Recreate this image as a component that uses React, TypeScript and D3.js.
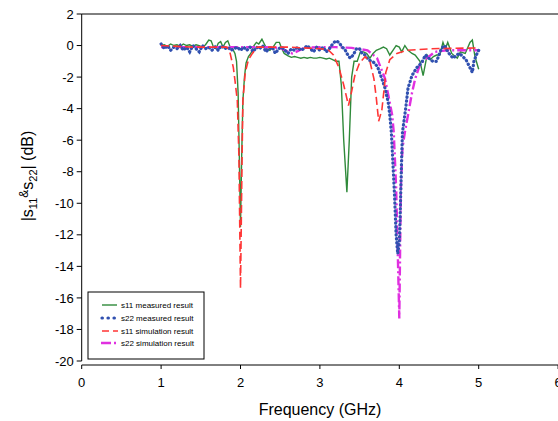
import React from "react";
import * as d3 from "d3";

// [frequency GHz, dB]
const s11Measured: [number, number][] = [
  [1.0, 0.0], [1.04, 0.05], [1.08, -0.05], [1.12, 0.1], [1.16, 0.0], [1.2, 0.05], [1.24, -0.05],
  [1.28, 0.1], [1.32, 0.0], [1.36, 0.05], [1.4, -0.05], [1.44, 0.05], [1.48, 0.0], [1.52, -0.1],
  [1.56, 0.05], [1.6, 0.35], [1.63, 0.3], [1.66, -0.1], [1.69, -0.2], [1.72, 0.15], [1.75, 0.25],
  [1.78, -0.1], [1.81, 0.2], [1.84, 0.3], [1.87, -0.1], [1.9, -0.2], [1.93, -0.5], [1.95, -1.0],
  [1.97, -3.0], [1.985, -7.0], [2.0, -11.5], [2.015, -7.0], [2.03, -3.5], [2.05, -2.0], [2.07, -1.1],
  [2.1, -0.7], [2.13, -0.5], [2.17, 0.0], [2.2, 0.2], [2.23, 0.1], [2.27, 0.4], [2.3, 0.1],
  [2.33, -0.2], [2.37, -0.3], [2.41, -0.1], [2.45, 0.2], [2.49, 0.2], [2.52, -0.2], [2.55, -0.5],
  [2.6, -0.65], [2.64, -0.75], [2.68, -0.7], [2.72, -0.75], [2.76, -0.8], [2.8, -0.75], [2.84, -0.8],
  [2.88, -0.75], [2.92, -0.8], [2.96, -0.8], [3.0, -0.75], [3.04, -0.8], [3.08, -0.85], [3.12, -0.8],
  [3.16, -0.9], [3.2, -1.0], [3.24, -1.0], [3.27, -2.5], [3.3, -6.0], [3.34, -9.3], [3.37, -6.0],
  [3.4, -2.0], [3.43, -1.0], [3.47, -1.0], [3.51, -0.4], [3.55, -0.4], [3.59, -0.5], [3.63, -0.8],
  [3.67, -0.5], [3.71, -0.3], [3.76, -0.2], [3.8, -0.1], [3.84, -0.2], [3.88, -0.6], [3.92, -0.3],
  [3.96, 0.0], [4.0, -0.1], [4.03, -0.4], [4.07, 0.0], [4.11, -0.3], [4.16, -0.5], [4.2, -0.6],
  [4.26, -1.0], [4.3, -1.9], [4.35, -0.6], [4.39, -0.9], [4.43, -0.7], [4.47, -0.6], [4.51, -0.6],
  [4.55, 0.2], [4.58, -0.2], [4.61, 0.2], [4.66, -0.5], [4.73, -0.8], [4.77, -0.4], [4.83, -0.5],
  [4.89, 0.2], [4.92, 0.35], [4.95, -0.6], [4.97, -1.0], [5.0, -1.5],
];

const s22Measured: [number, number][] = [
  [1.0, 0.1], [1.04, -0.2], [1.08, 0.0], [1.12, -0.3], [1.16, -0.1], [1.2, -0.2], [1.24, 0.0],
  [1.28, -0.3], [1.32, -0.1], [1.36, -0.4], [1.4, 0.0], [1.44, -0.2], [1.48, -0.4], [1.52, 0.0],
  [1.56, -0.2], [1.6, -0.1], [1.64, -0.3], [1.68, -0.1], [1.72, -0.3], [1.76, 0.0], [1.8, -0.2],
  [1.84, -0.1], [1.88, -0.3], [1.92, -0.2], [1.96, -0.1], [2.0, -0.3], [2.04, -0.1], [2.08, -0.3],
  [2.12, -0.1], [2.16, -0.4], [2.2, -0.1], [2.24, -0.2], [2.28, 0.0], [2.32, -0.4], [2.36, -0.2],
  [2.4, -0.1], [2.44, -0.5], [2.48, -0.2], [2.52, -0.1], [2.56, -0.3], [2.6, -0.5], [2.64, -0.2],
  [2.68, -0.3], [2.72, -0.1], [2.76, -0.3], [2.8, -0.2], [2.84, 0.0], [2.88, -0.2], [2.92, -0.4],
  [2.96, -0.1], [3.0, -0.3], [3.04, -0.1], [3.08, -0.4], [3.12, -0.2], [3.16, 0.1], [3.2, 0.3],
  [3.24, 0.2], [3.28, -0.1], [3.31, -0.2], [3.34, -0.5], [3.38, -0.8], [3.42, -0.6], [3.46, -0.2],
  [3.5, -0.2], [3.53, -0.5], [3.57, -0.6], [3.61, -0.9], [3.65, -1.0], [3.69, -1.1], [3.73, -1.4],
  [3.78, -2.1], [3.82, -2.7], [3.86, -3.6], [3.88, -4.4], [3.9, -5.5], [3.92, -7.5], [3.94, -9.5],
  [3.96, -12.0], [3.98, -13.2], [4.0, -12.5], [4.01, -11.0], [4.02, -9.0], [4.03, -7.0], [4.04, -5.5],
  [4.08, -4.0], [4.11, -2.7], [4.16, -1.9], [4.22, -1.4], [4.28, -1.1], [4.33, -0.6], [4.37, -0.8],
  [4.42, -1.0], [4.47, -1.0], [4.5, -0.6], [4.53, -0.2], [4.57, 0.0], [4.6, -0.3], [4.64, -0.6],
  [4.68, -0.8], [4.72, -0.6], [4.76, -0.5], [4.8, -0.7], [4.84, -0.9], [4.88, -1.3], [4.92, -1.7],
  [4.94, -1.0], [4.97, -0.6], [5.0, -0.3],
];

const s11Simulation: [number, number][] = [
  [1.0, 0.0], [1.2, -0.05], [1.4, -0.1], [1.6, -0.1], [1.75, -0.1], [1.83, -0.1], [1.87, -0.5],
  [1.91, -1.4], [1.93, -2.2], [1.96, -3.5], [1.98, -7.0], [2.0, -15.4], [2.02, -7.0], [2.03, -3.5],
  [2.06, -1.7], [2.1, -0.9], [2.15, -0.5], [2.21, -0.1], [2.4, -0.1], [2.6, -0.1], [2.8, -0.15],
  [3.0, -0.2], [3.1, -0.25], [3.17, -0.6], [3.24, -1.4], [3.3, -2.5], [3.36, -3.8], [3.4, -2.9],
  [3.44, -1.9], [3.5, -1.1], [3.57, -0.7], [3.63, -1.0], [3.68, -2.1], [3.71, -3.3], [3.74, -4.8],
  [3.78, -4.1], [3.81, -2.7], [3.83, -1.7], [3.88, -0.9], [3.97, -0.5], [4.1, -0.3], [4.4, -0.2],
  [5.0, -0.15],
];

const s22Simulation: [number, number][] = [
  [1.0, -0.1], [1.5, -0.1], [2.0, -0.1], [2.3, -0.1], [2.5, -0.15], [2.6, -0.4], [2.65, -0.5],
  [2.7, -0.4], [2.8, -0.15], [3.0, -0.1], [3.2, -0.1], [3.4, -0.15], [3.6, -0.3], [3.72, -0.8],
  [3.82, -2.1], [3.86, -3.1], [3.91, -4.4], [3.93, -5.5], [3.96, -9.0], [3.98, -13.0], [4.0, -17.3],
  [4.01, -13.0], [4.02, -9.0], [4.04, -6.5], [4.07, -5.5], [4.11, -4.4], [4.16, -3.0], [4.2, -2.1],
  [4.26, -1.2], [4.32, -0.9], [4.45, -0.4], [4.6, -0.3], [5.0, -0.3],
];

const xTicks = [0, 1, 2, 3, 4, 5, 6];
const yTicks = [2, 0, -2, -4, -6, -8, -10, -12, -14, -16, -18, -20];
const legendLabels = [
  "s11 measured result",
  "s22 measured result",
  "s11 simulation result",
  "s22 simulation result",
];

const FONT = "Arial, 'Liberation Sans', sans-serif";
const GREEN = "#2f8a3a";
const BLUE = "#3050b0";
const RED = "#ff3535";
const MAGENTA = "#e030e0";

export default function App() {
  const W = 558;
  const H = 421;
  const x = d3.scaleLinear().domain([0, 6]).range([81.7, 558.1]);
  const y = d3.scaleLinear().domain([-20, 2]).range([361, 14]);
  const line = d3
    .line<[number, number]>()
    .x((d) => x(d[0]))
    .y((d) => y(d[1]));

  const legendX = 88;
  const legendY = 292;
  const rowY = [305, 318, 331, 343];

  return (
    <svg
      width={W}
      height={H}
      style={{ position: "absolute", left: 0, top: 0, background: "#fff" }}
      fontFamily={FONT}
    >
      <rect x={0} y={0} width={W} height={H} fill="#fff" />
      {/* frame */}
      <line x1={x(0)} x2={W} y1={y(2)} y2={y(2)} stroke="#000" strokeWidth={1} />
      <line x1={x(0)} x2={x(0)} y1={y(2)} y2={y(-20)} stroke="#000" strokeWidth={1} />
      <line x1={x(0)} x2={W} y1={365} y2={365} stroke="#000" strokeWidth={1} />
      {yTicks.map((t) => (
        <g key={"y" + t}>
          <line x1={x(0) - 5} x2={x(0)} y1={y(t)} y2={y(t)} stroke="#000" />
          <text x={x(0) - 8} y={y(t)} dy="0.36em" textAnchor="end" fontSize={13}>
            {t}
          </text>
        </g>
      ))}
      {xTicks.map((t) => (
        <g key={"x" + t}>
          <line x1={x(t)} x2={x(t)} y1={365} y2={369} stroke="#000" />
          <text x={x(t)} y={387} textAnchor="middle" fontSize={13}>
            {t}
          </text>
        </g>
      ))}
      <text x={320} y={415} textAnchor="middle" fontSize={16}>
        Frequency (GHz)
      </text>
      <text transform="translate(33,176) rotate(-90)" textAnchor="middle" fontSize={16}>
        <tspan>|s</tspan>
        <tspan fontSize={11} dy={4}>11</tspan>
        <tspan fontSize={12} dy={-9}>&amp;</tspan>
        <tspan dy={5}>s</tspan>
        <tspan fontSize={11} dy={4}>22</tspan>
        <tspan dy={-4}>| (dB)</tspan>
      </text>

      {/* series */}
      <path d={line(s11Measured) || ""} fill="none" stroke={GREEN} strokeWidth={1.4} />
      <path
        d={line(s22Simulation) || ""}
        fill="none"
        stroke={MAGENTA}
        strokeWidth={2.4}
        strokeDasharray="9 3 2 3"
      />
      <path
        d={line(s22Measured) || ""}
        fill="none"
        stroke={BLUE}
        strokeWidth={3.2}
        strokeLinecap="round"
        strokeDasharray="0.4 3.6"
      />
      <path
        d={line(s11Simulation) || ""}
        fill="none"
        stroke={RED}
        strokeWidth={1.6}
        strokeDasharray="8 4"
      />

      {/* legend */}
      <rect x={legendX} y={legendY} width={116} height={67} fill="#fff" stroke="#000" strokeWidth={1} />
      <line x1={102} x2={117} y1={rowY[0]} y2={rowY[0]} stroke={GREEN} strokeWidth={1.4} />
      <line
        x1={102}
        x2={117}
        y1={rowY[1]}
        y2={rowY[1]}
        stroke={BLUE}
        strokeWidth={3.2}
        strokeLinecap="round"
        strokeDasharray="0.4 5.6"
      />
      <line x1={102} x2={118} y1={rowY[2]} y2={rowY[2]} stroke={RED} strokeWidth={1.6} strokeDasharray="7 4" />
      <line
        x1={101}
        x2={118}
        y1={rowY[3]}
        y2={rowY[3]}
        stroke={MAGENTA}
        strokeWidth={2.4}
        strokeDasharray="10 3 2 3"
      />
      {legendLabels.map((l, i) => (
        <text key={l} x={121} y={rowY[i]} dy="0.35em" fontSize={8}>
          {l}
        </text>
      ))}
    </svg>
  );
}
